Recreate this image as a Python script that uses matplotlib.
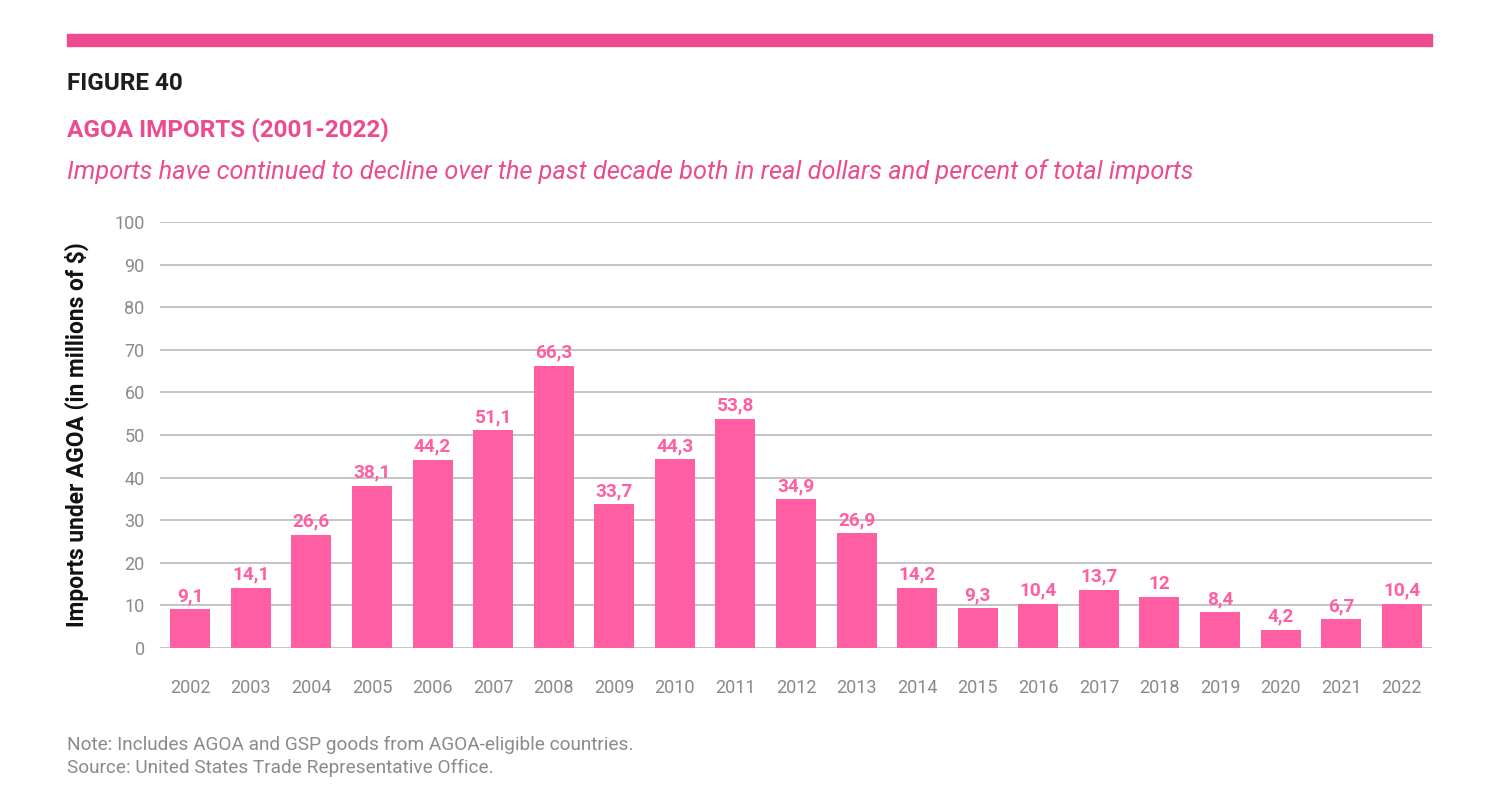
import matplotlib
matplotlib.use("Agg")
import matplotlib.pyplot as plt
from matplotlib.patches import Rectangle

plt.rcParams['font.family'] = ['Roboto', 'DejaVu Sans']

years = ['2002', '2003', '2004', '2005', '2006', '2007', '2008', '2009', '2010', '2011', '2012',
         '2013', '2014', '2015', '2016', '2017', '2018', '2019', '2020', '2021', '2022']
imports = [9.1, 14.1, 26.6, 38.1, 44.2, 51.1, 66.3, 33.7, 44.3, 53.8, 34.9,
           26.9, 14.2, 9.3, 10.4, 13.7, 12, 8.4, 4.2, 6.7, 10.4]
yticks = [0, 10, 20, 30, 40, 50, 60, 70, 80, 90, 100]

pink = '#ff5fa2'
header_pink = '#ec4b8f'
gray = '#8a8a8a'

fig = plt.figure(figsize=(14.99, 8), dpi=100)
fig.patch.set_facecolor('white')

# top band
fig.patches.append(Rectangle((67/1499, 1-46/800), (1432-67)/1499, 12/800,
                             transform=fig.transFigure, color=header_pink, zorder=1))

fig.text(67/1499, 1-83/800, 'FIGURE 40', fontsize=17.5, fontweight='bold', color='#1e1e1e',
         va='center', ha='left')
fig.text(67/1499, 1-130/800, 'AGOA IMPORTS (2001-2022)', fontsize=17.5, fontweight='bold',
         color=header_pink, va='center', ha='left')
fig.text(67/1499, 1-172/800,
         'Imports have continued to decline over the past decade both in real dollars and percent of total imports',
         fontsize=18.3, style='italic', color=header_pink, va='center', ha='left')

ax = fig.add_axes([160/1499, 1-648/800, 1272/1499, 426/800])
x = list(range(len(years)))
bars = ax.bar(x, imports, width=0.66, color=pink, zorder=3)
for xi, v in zip(x, imports):
    lab = ('%g' % v).replace('.', ',')
    ax.text(xi, v + 1.0, lab, ha='center', va='bottom', fontsize=13.7,
            fontweight='bold', color=pink)

ax.set_xlim(-0.5, len(years) - 0.5)
ax.set_ylim(0, 100)
ax.set_yticks(yticks)
ax.set_xticks(x)
ax.set_xticklabels(years)
ax.tick_params(axis='both', length=0, labelsize=13, labelcolor=gray)
ax.tick_params(axis='x', pad=22)
ax.tick_params(axis='y', pad=11)
ax.grid(axis='y', color='#c4c4c4', linewidth=1.4, zorder=0)
for s in ax.spines.values():
    s.set_visible(False)
ax.set_ylabel('Imports under AGOA (in millions of $)', fontsize=16.4, fontweight='bold',
              color='#111111', labelpad=18)

fig.text(67/1499, 1-745/800, 'Note: Includes AGOA and GSP goods from AGOA-eligible countries.',
         fontsize=13.7, color=gray, va='center', ha='left')
fig.text(67/1499, 1-768/800, 'Source: United States Trade Representative Office.',
         fontsize=13.7, color=gray, va='center', ha='left')

fig.savefig('out.png', dpi=100)
